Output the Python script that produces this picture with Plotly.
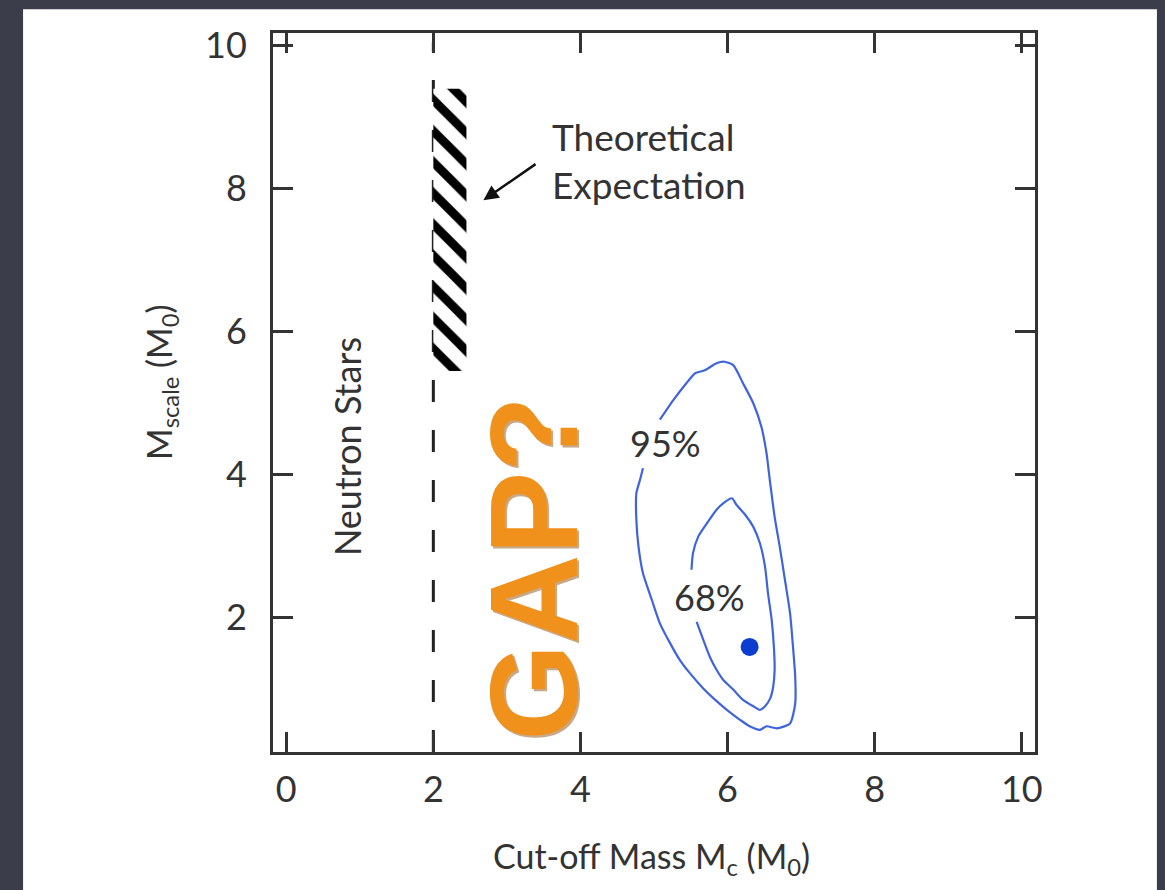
import plotly.graph_objects as go

# ---- data ----
x_ticks = [0, 2, 4, 6, 8, 10]
y_ticks = [2, 4, 6, 8, 10]

c95_x = [5.08, 5.26, 5.44, 5.56, 5.69, 5.85, 5.96, 6.08, 6.21, 6.35, 6.46, 6.53, 6.58, 6.64,
         6.71, 6.78, 6.85, 6.89, 6.92, 6.92, 6.85, 6.67, 6.53, 6.44, 6.30, 6.17, 5.99, 5.81,
         5.67, 5.49, 5.35, 5.22, 5.08, 4.97, 4.85, 4.79, 4.76, 4.76, 4.81, 4.85]
c95_y = [4.77, 5.04, 5.28, 5.42, 5.46, 5.56, 5.58, 5.53, 5.28, 5.00, 4.67, 4.30, 3.88, 3.41,
         2.99, 2.53, 2.06, 1.59, 1.17, 0.80, 0.52, 0.45, 0.48, 0.43, 0.48, 0.57, 0.71, 0.87,
         1.01, 1.22, 1.41, 1.64, 1.92, 2.25, 2.62, 2.99, 3.37, 3.74, 3.93, 4.09]

c68_x = [5.51, 5.53, 5.60, 5.72, 5.85, 5.94, 6.06, 6.12, 6.24, 6.35, 6.44, 6.51, 6.55, 6.60,
         6.63, 6.64, 6.62, 6.58, 6.51, 6.44, 6.35, 6.21, 6.08, 5.94, 5.85, 5.76, 5.67, 5.58]
c68_y = [2.67, 2.90, 3.13, 3.32, 3.51, 3.60, 3.67, 3.58, 3.44, 3.27, 3.04, 2.71, 2.34, 1.97,
         1.59, 1.27, 1.03, 0.87, 0.76, 0.71, 0.76, 0.85, 0.99, 1.13, 1.27, 1.45, 1.69, 1.94]

best_x = [6.30]
best_y = [1.59]

ns_limit_x = [2.0, 2.0]
ns_limit_y = [0.12, 10.05]

theory_x = [2.0, 2.45, 2.45, 2.0, 2.0]
theory_y = [5.45, 5.45, 9.40, 9.40, 5.45]

# ---- style ----
FONT = "Lato"
TXT = "#333333"
BLUE = "#3f64dc"
ORANGE = "#f0911c"

fig = go.Figure()

fig.add_trace(go.Scatter(x=ns_limit_x, y=ns_limit_y, mode="lines",
                         line=dict(color="#222222", width=3, dash="22px,28px"),
                         showlegend=False, hoverinfo="skip"))

fig.add_trace(go.Scatter(x=theory_x, y=theory_y, mode="lines", fill="toself",
                         fillcolor="white",
                         fillpattern=dict(shape="\\", fgcolor="#000000", bgcolor="white",
                                          fgopacity=1, size=22, solidity=0.4),
                         line=dict(width=0, color="rgba(0,0,0,0)"),
                         showlegend=False, hoverinfo="skip"))

fig.add_trace(go.Scatter(x=c95_x, y=c95_y, mode="lines",
                         line=dict(color=BLUE, width=2.2, shape="spline", smoothing=0.6),
                         showlegend=False))
fig.add_trace(go.Scatter(x=c68_x, y=c68_y, mode="lines",
                         line=dict(color=BLUE, width=2.2, shape="spline", smoothing=0.6),
                         showlegend=False))
fig.add_trace(go.Scatter(x=best_x, y=best_y, mode="markers",
                         marker=dict(color="#0a3dd0", size=18),
                         showlegend=False))

axis_common = dict(showline=True, linecolor="#333333", linewidth=3, mirror="ticks",
                   ticks="inside", ticklen=20, tickwidth=3, tickcolor="#333333",
                   showgrid=False, zeroline=False,
                   tickfont=dict(family=FONT, size=36, color=TXT))

fig.update_xaxes(range=[-0.18, 10.18], tickvals=x_ticks, ticklabelstandoff=4, **axis_common)
fig.update_yaxes(range=[0.12, 10.18], tickvals=y_ticks, ticklabelstandoff=16, **axis_common)

annotations = [
    dict(x=0.497, y=-0.147, xref="paper", yref="paper", xanchor="center", yanchor="middle",
         text="Cut-off Mass M<sub>c</sub> (M<sub>0</sub>)", showarrow=False,
         font=dict(family=FONT, size=34, color=TXT)),
    dict(x=-0.148, y=0.515, xref="paper", yref="paper", xanchor="center", yanchor="middle",
         textangle=-90,
         text="M<sub>scale</sub> (M<sub>0</sub>)", showarrow=False,
         font=dict(family=FONT, size=34, color=TXT)),
    dict(x=0.83, y=4.39, xref="x", yref="y", textangle=-90, text="Neutron Stars",
         showarrow=False, font=dict(family=FONT, size=36, color=TXT)),
    dict(x=3.59, y=8.40, xref="x", yref="y", xanchor="left", align="left",
         text="Theoretical<br>Expectation", showarrow=False,
         font=dict(family=FONT, size=37, color=TXT)),
    dict(x=2.68, y=7.84, xref="x", yref="y", ax=3.41, ay=8.36, axref="x", ayref="y",
         text="", showarrow=True, arrowhead=2, arrowsize=1.2, arrowwidth=2.5,
         arrowcolor="#111111"),
    dict(x=5.15, y=4.44, xref="x", yref="y", text="95%", showarrow=False,
         font=dict(family=FONT, size=36, color=TXT)),
    dict(x=5.76, y=2.29, xref="x", yref="y", text="68%", showarrow=False,
         font=dict(family=FONT, size=36, color=TXT)),
    dict(x=3.40, y=2.66, xref="x", yref="y", textangle=-90, text="<b>GAP?</b>",
         showarrow=False, font=dict(family="Liberation Sans", size=124, color="#c9a888")),
    dict(x=3.37, y=2.69, xref="x", yref="y", textangle=-90, text="<b>GAP?</b>",
         showarrow=False, font=dict(family="Liberation Sans", size=124, color=ORANGE)),
]

fig.update_layout(
    width=1165, height=890,
    margin=dict(l=273, r=130, t=33, b=138),
    paper_bgcolor="#3b3d4a",
    plot_bgcolor="white",
    annotations=annotations,
    shapes=[dict(type="rect", xref="paper", yref="paper", x0=-0.328, x1=1.160,
                 y0=-0.25, y1=1.033, fillcolor="white", line=dict(width=0),
                 layer="below")],
)

fig.write_html("out.html", config={"displayModeBar": False},
               post_script="document.body.style.margin='0px';")
